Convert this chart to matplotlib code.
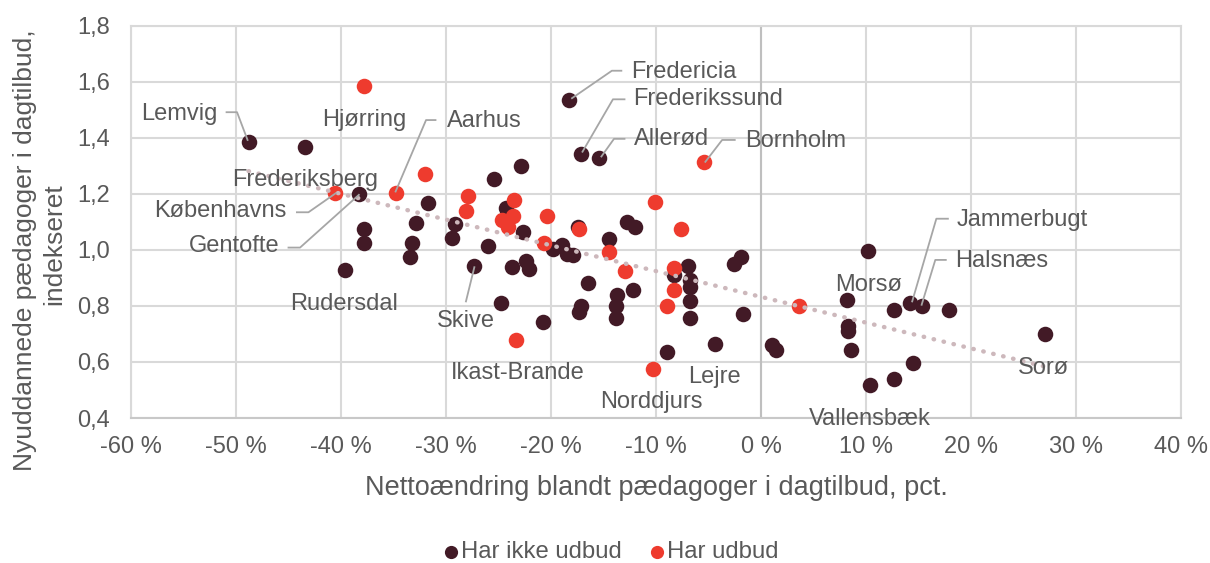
import matplotlib
matplotlib.use("Agg")
import matplotlib.pyplot as plt
import numpy as np
from matplotlib.ticker import FuncFormatter

plt.rcParams['font.family'] = ['Liberation Sans', 'DejaVu Sans']

# --- data -------------------------------------------------------------
har_ikke_x = [-48.8, -43.4, -38.3, -37.8, -37.8, -39.6, -32.9, -33.2, -33.4, -31.7,
              -29.1, -29.4, -25.4, -22.9, -24.3, -22.7, -26.0, -27.3, -23.7, -22.4,
              -22.1, -24.8, -20.8, -19.8, -19.0, -18.5, -17.9, -18.3, -17.1, -15.4,
              -17.4, -14.5, -12.8, -12.0, -16.5, -17.1, -17.3, -13.7, -13.8, -13.8,
              -12.2, -8.3, -9.0, -7.0, -6.8, -6.8, -6.8, -6.8, -4.4, -1.7,
              -2.6, -1.9, 1.0, 1.4, 10.2, 8.2, 8.3, 8.3, 8.6, 10.4,
              12.7, 14.5, 12.7, 14.2, 15.3, 17.9, 27.0]
har_ikke_y = [1.386, 1.368, 1.200, 1.075, 1.026, 0.929, 1.097, 1.024, 0.976, 1.166,
              1.093, 1.042, 1.252, 1.300, 1.149, 1.065, 1.012, 0.941, 0.937, 0.961,
              0.931, 0.812, 0.741, 1.003, 1.018, 0.986, 0.982, 1.535, 1.342, 1.327,
              1.083, 1.039, 1.101, 1.083, 0.883, 0.798, 0.777, 0.840, 0.798, 0.756,
              0.857, 0.911, 0.637, 0.941, 0.893, 0.867, 0.816, 0.756, 0.665, 0.772,
              0.950, 0.973, 0.661, 0.643, 0.996, 0.822, 0.727, 0.709, 0.641, 0.516,
              0.540, 0.598, 0.786, 0.810, 0.798, 0.786, 0.700]

har_x = [-37.8, -40.6, -34.8, -32.0, -27.9, -28.1, -23.5, -24.7, -24.1, -23.6,
         -20.4, -20.7, -17.3, -14.5, -10.1, -7.6, -5.4, -8.3, -8.3, -9.0,
         -10.3, -13.0, -23.3, 3.6]
har_y = [1.585, 1.202, 1.204, 1.270, 1.193, 1.139, 1.178, 1.107, 1.083, 1.119,
         1.119, 1.026, 1.074, 0.994, 1.169, 1.075, 1.314, 0.935, 0.857, 0.798,
         0.575, 0.926, 0.677, 0.801]

series_names = ["Har ikke udbud", "Har udbud"]

x_ticks = [-60, -50, -40, -30, -20, -10, 0, 10, 20, 30, 40]
y_ticks = [0.4, 0.6, 0.8, 1.0, 1.2, 1.4, 1.6, 1.8]

# Labels: (text, x, y, ha, leader-line points or None)
labels = [
    ("Lemvig", -51.8, 1.485, "right", [(-50.9, 1.491), (-49.9, 1.491), (-48.9, 1.392)]),
    ("Hjørring", -37.8, 1.463, "center", None),
    ("Frederiksberg", -43.4, 1.250, "center", None),
    ("Københavns", -45.2, 1.137, "right", [(-44.2, 1.134), (-43.1, 1.134), (-40.5, 1.202)]),
    ("Gentofte", -45.9, 1.012, "right", [(-45.0, 1.008), (-43.9, 1.008), (-38.3, 1.196)]),
    ("Rudersdal", -39.7, 0.807, "center", None),
    ("Aarhus", -29.9, 1.460, "left", [(-31.0, 1.463), (-31.9, 1.463), (-34.8, 1.208)]),
    ("Fredericia", -12.4, 1.636, "left", [(-13.3, 1.639), (-14.2, 1.639), (-18.0, 1.541)]),
    ("Frederikssund", -12.2, 1.537, "left", [(-13.0, 1.537), (-14.1, 1.537), (-17.0, 1.350)]),
    ("Allerød", -12.1, 1.396, "left", [(-13.0, 1.396), (-14.0, 1.396), (-15.2, 1.333)]),
    ("Bornholm", -1.5, 1.389, "left", [(-2.5, 1.392), (-3.7, 1.392), (-5.3, 1.314)]),
    ("Jammerbugt", 18.6, 1.107, "left", [(17.8, 1.111), (16.7, 1.111), (14.4, 0.816)]),
    ("Halsnæs", 18.5, 0.961, "left", [(17.6, 0.964), (16.6, 0.964), (15.3, 0.804)]),
    ("Morsø", 10.2, 0.875, "center", None),
    ("Sorø", 26.9, 0.578, "center", None),
    ("Vallensbæk", 10.4, 0.396, "center", None),
    ("Lejre", -4.4, 0.546, "center", None),
    ("Norddjurs", -10.4, 0.458, "center", None),
    ("Ikast-Brande", -23.2, 0.561, "center", None),
    ("Skive", -28.1, 0.747, "center", [(-28.1, 0.816), (-27.3, 0.938)]),
]

# --- style ------------------------------------------------------------
dark = "#421A26"
red = "#EE3B2E"
txt = "#595959"
grid = "#D9D9D9"
fs = 17
fs_title = 19.5

fig = plt.figure(figsize=(12.10, 5.63), dpi=100)
ax = fig.add_axes([131 / 1210, 1 - 418 / 563, (1181 - 131) / 1210, (418 - 25.6) / 563])

ax.scatter(har_ikke_x, har_ikke_y, s=125, color=dark, linewidths=0, zorder=3, label=series_names[0])
ax.scatter(har_x, har_y, s=125, color=red, linewidths=0, zorder=4, label=series_names[1])

# linear trend line over all points
allx = np.array(har_ikke_x + har_x)
ally = np.array(har_ikke_y + har_y)
k, m = np.polyfit(allx, ally, 1)
tx = np.array([allx.min(), allx.max()])
ax.plot(tx, k * tx + m, linestyle=(0, (0.1, 2.2)), dash_capstyle="round",
        color="#CDB8BC", linewidth=3.2, zorder=5)

ax.set_xlim(-60, 40)
ax.set_ylim(0.4, 1.8)
ax.set_xticks(x_ticks)
ax.set_yticks(y_ticks)
ax.xaxis.set_major_formatter(FuncFormatter(lambda v, p: f"{int(round(v))} %"))
ax.yaxis.set_major_formatter(FuncFormatter(lambda v, p: f"{v:.1f}".replace(".", ",")))
ax.tick_params(axis="both", length=0, labelsize=fs, labelcolor=txt)
ax.tick_params(axis="y", pad=15)
ax.tick_params(axis="x", pad=13)
ax.grid(True, color=grid, linewidth=1.5, zorder=0)
ax.set_axisbelow(True)
for s in ax.spines.values():
    s.set_color(grid)
    s.set_linewidth(1.5)
ax.spines["bottom"].set_color("#C8C8C8")
ax.axvline(0, color="#BFBFBF", linewidth=1.5, zorder=1)

for name, lx, ly, ha, pts in labels:
    ax.text(lx, ly, name, ha=ha, va="center", fontsize=fs, color=txt, zorder=6)
    if pts:
        ax.plot([p[0] for p in pts], [p[1] for p in pts], color="#A6A6A6",
                linewidth=1.3, zorder=6)

ax.set_xlabel("Nettoændring blandt pædagoger i dagtilbud, pct.", fontsize=fs_title,
              color=txt, labelpad=12)
ymid = 1 - 250 / 563
fig.text(25 / 1210, ymid, "Nyuddannede pædagoger i dagtilbud,", rotation=90,
         ha="center", va="center", fontsize=19, color=txt)
fig.text(54 / 1210, 1 - 244 / 563, "indekseret", rotation=90, ha="center", va="center",
         fontsize=19, color=txt)

fig.legend(loc="center", bbox_to_anchor=(0.505, 1 - 552 / 563), ncol=2, frameon=False,
           fontsize=17.2, labelcolor=txt, handlelength=0.6, handletextpad=0.1,
           columnspacing=1.2, markerscale=0.85)

fig.savefig("out.png", dpi=100)
